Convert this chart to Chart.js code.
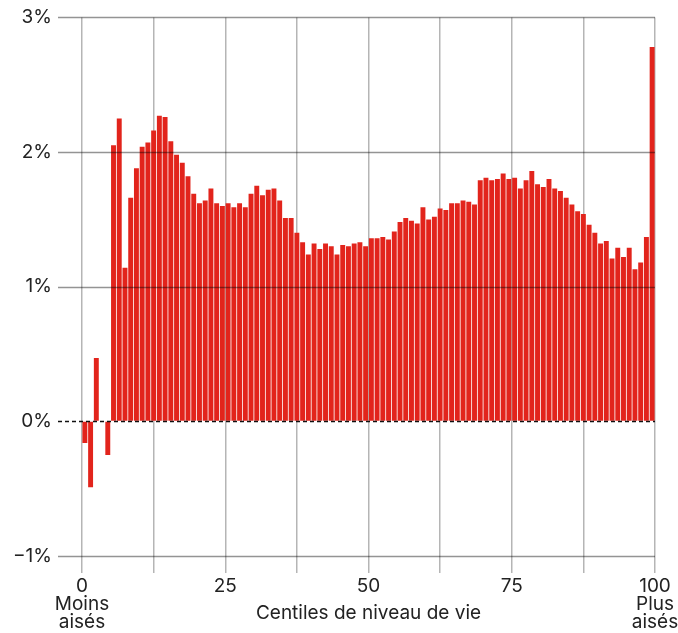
<!DOCTYPE html>
<html lang="fr">
<head>
<meta charset="utf-8">
<title>Centiles de niveau de vie</title>
<script src="https://cdn.jsdelivr.net/npm/chart.js@4/dist/chart.umd.min.js"></script>
<style>
    html, body { margin: 0; padding: 0; background: #fff; }
    #cadre { width: 678px; height: 633px; position: relative; }
</style>
</head>
<body>
<div id="cadre"><canvas id="graphique"></canvas></div>
<script>
// centiles de niveau de vie (1 = moins aisés, 100 = plus aisés)
const centiles = Array.from({ length: 100 }, (_, i) => String(i + 1));

// variation en %
const variation = [
    -0.16, -0.49, 0.47, 0.00, -0.25, 2.05, 2.25, 1.14, 1.66, 1.88,
    2.04, 2.07, 2.16, 2.27, 2.26, 2.08, 1.98, 1.92, 1.82, 1.69,
    1.62, 1.64, 1.73, 1.62, 1.60, 1.62, 1.59, 1.62, 1.59, 1.69,
    1.75, 1.68, 1.72, 1.73, 1.64, 1.51, 1.51, 1.40, 1.33, 1.24,
    1.32, 1.28, 1.32, 1.30, 1.24, 1.31, 1.30, 1.32, 1.33, 1.30,
    1.36, 1.36, 1.37, 1.35, 1.41, 1.48, 1.51, 1.49, 1.47, 1.59,
    1.50, 1.52, 1.58, 1.57, 1.62, 1.62, 1.64, 1.63, 1.61, 1.79,
    1.81, 1.79, 1.80, 1.84, 1.80, 1.81, 1.73, 1.79, 1.86, 1.76,
    1.74, 1.80, 1.73, 1.71, 1.66, 1.61, 1.56, 1.54, 1.46, 1.40,
    1.32, 1.34, 1.21, 1.29, 1.22, 1.29, 1.13, 1.18, 1.37, 2.78
];

// graduations et étiquettes de l'axe horizontal
const graduationsX = [0, 12.5, 25, 37.5, 50, 62.5, 75, 87.5, 100];
const etiquettesX = {
    0: ["0", "Moins", "aisés"],
    25: ["25"],
    50: ["50"],
    75: ["75"],
    100: ["100", "Plus", "aisés"]
};

// étiquettes de l'axe vertical
const etiquettesY = { "3": "3%", "2": "2%", "1": "1%", "0": "0%", "-1": "\u22121%" };

const titreX = "Centiles de niveau de vie";

const police = "Inter, 'Open Sans', sans-serif";

// lignes horizontales dessinées par-dessus les barres + titre de l'axe
const lignesHorizontales = {
    id: "lignesHorizontales",
    afterDatasetsDraw(chart) {
        const ctx = chart.ctx;
        const y = chart.scales.y;
        const zone = chart.chartArea;
        ctx.save();
        y.ticks.forEach(t => {
            const py = Math.round(y.getPixelForValue(t.value)) + 0.5;
            ctx.beginPath();
            if (t.value === 0) {
                ctx.setLineDash([4, 3]);
                ctx.strokeStyle = "#111";
                ctx.lineWidth = 1.6;
            } else {
                ctx.setLineDash([]);
                ctx.strokeStyle = "rgba(0,0,0,0.42)";
                ctx.lineWidth = 1.3;
            }
            ctx.moveTo(zone.left - 24, py);
            ctx.lineTo(zone.right, py);
            ctx.stroke();
        });
        ctx.restore();
    },
    afterDraw(chart) {
        const ctx = chart.ctx;
        const zone = chart.chartArea;
        ctx.save();
        ctx.font = "19px " + police;
        ctx.fillStyle = "#222";
        ctx.textAlign = "center";
        ctx.textBaseline = "middle";
        ctx.fillText(titreX, (zone.left + zone.right) / 2, 613);
        ctx.restore();
    }
};

new Chart(document.getElementById("graphique"), {
    type: "bar",
    data: {
        labels: centiles,
        datasets: [{
            data: variation,
            backgroundColor: "#e2241c",
            borderWidth: 0,
            barPercentage: 0.86,
            categoryPercentage: 1
        }]
    },
    options: {
        responsive: true,
        maintainAspectRatio: false,
        animation: false,
        layout: { padding: { left: 0, right: 23, top: 17, bottom: 0 } },
        plugins: {
            legend: { display: false },
            tooltip: { enabled: false }
        },
        scales: {
            x: {
                display: false
            },
            x2: {
                type: "linear",
                position: "bottom",
                min: 0,
                max: 100,
                offset: false,
                afterFit: s => {
                    s.height = 77;
                    s.paddingLeft = 0;
                    s.paddingRight = 0;
                },
                afterBuildTicks: s => {
                    s.ticks = graduationsX.map(v => ({ value: v }));
                },
                border: { display: false },
                grid: {
                    offset: false,
                    color: "#b5b5b5",
                    lineWidth: 1.5,
                    tickLength: 17
                },
                ticks: {
                    autoSkip: false,
                    maxRotation: 0,
                    padding: 4,
                    color: "#222",
                    font: { family: police, size: 19, lineHeight: 0.95 },
                    callback: v => etiquettesX[v] || ""
                }
            },
            y: {
                min: -1,
                max: 3,
                afterFit: s => { s.width = 82; },
                border: { display: false },
                grid: {
                    color: "transparent",
                    drawOnChartArea: false,
                    tickLength: 24
                },
                ticks: {
                    stepSize: 1,
                    padding: 6,
                    color: "#222",
                    font: { family: police, size: 19 },
                    callback: v => etiquettesY[String(v)] || ""
                }
            }
        }
    },
    plugins: [lignesHorizontales]
});
</script>
</body>
</html>
